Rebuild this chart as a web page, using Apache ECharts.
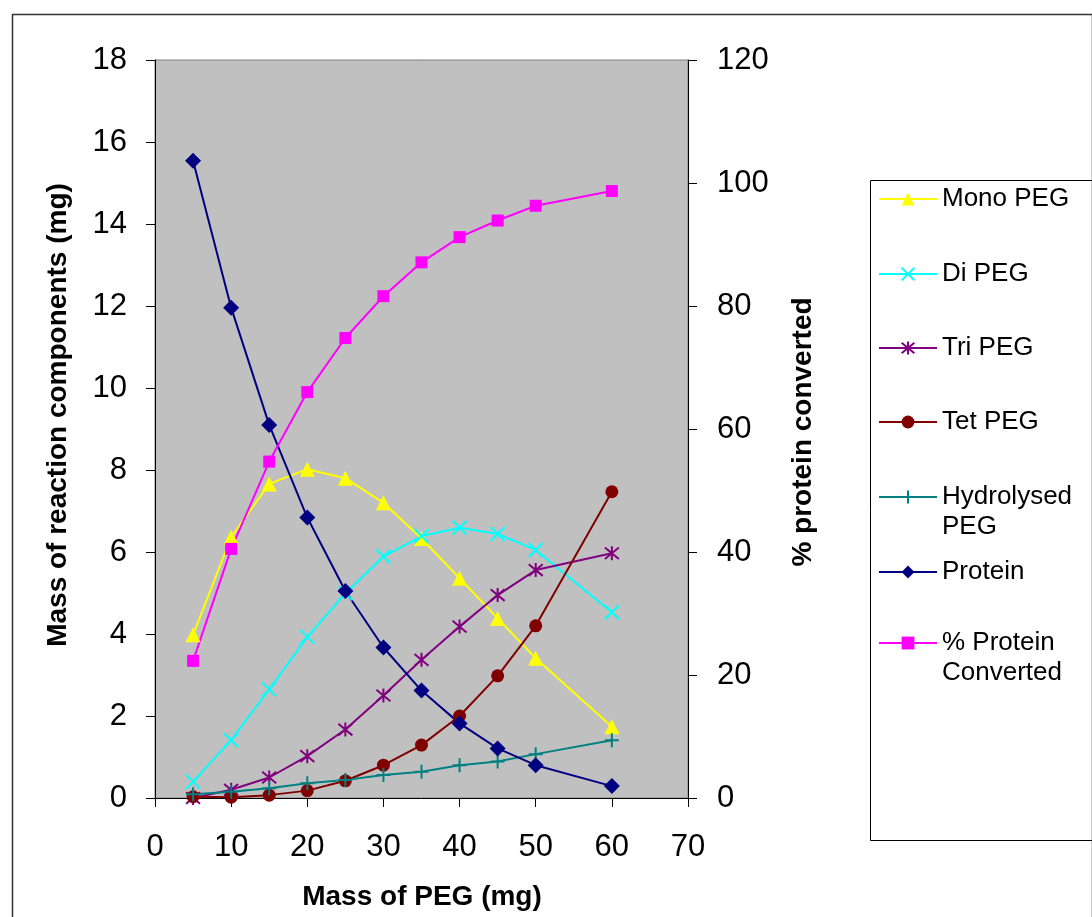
<!DOCTYPE html>
<html>
<head>
<meta charset="utf-8">
<title>PEG reaction components</title>
<script src="https://cdn.jsdelivr.net/npm/echarts@6/dist/echarts.min.js"></script>
<style>
  html, body { margin: 0; padding: 0; background: #fff; }
  #chart { width: 1092px; height: 917px; }
</style>
</head>
<body>
<div id="chart"></div>
<script>
// x 轴：PEG 质量 (mg)
var massPeg = [5, 10, 15, 20, 25, 30, 35, 40, 45, 50, 60];
// 左轴各组分 (mg)
var monoPeg = [3.98, 6.36, 7.66, 8.02, 7.8, 7.2, 6.33, 5.36, 4.38, 3.41, 1.74];
var diPeg = [0.4, 1.41, 2.65, 3.93, 4.99, 5.89, 6.39, 6.59, 6.44, 6.05, 4.53];
var triPeg = [0, 0.2, 0.5, 1.02, 1.67, 2.5, 3.37, 4.18, 4.95, 5.56, 5.97];
var tetPeg = [0.03, 0.02, 0.07, 0.18, 0.42, 0.8, 1.29, 2.0, 2.98, 4.2, 7.47];
var hydrolysedPeg = [0.09, 0.15, 0.24, 0.36, 0.44, 0.56, 0.64, 0.8, 0.89, 1.07, 1.41];
var protein = [15.54, 11.96, 9.1, 6.84, 5.05, 3.67, 2.62, 1.82, 1.21, 0.8, 0.29];
// 右轴：蛋白转化率 (%)
var proteinConverted = [22.3, 40.5, 54.7, 66, 74.8, 81.6, 87.1, 91.2, 93.9, 96.3, 98.7];

var seriesNames = ['Mono PEG', 'Di PEG', 'Tri PEG', 'Tet PEG', 'Hydrolysed\nPEG', 'Protein', '% Protein\nConverted'];
// 图例每一项图标的中心 y
var legendRows = [199, 274, 348, 422, 497, 572, 643];

(function () {
  var font = '"Liberation Sans", Arial, sans-serif';
  var myChart = echarts.init(document.getElementById('chart'));

  function pairs(ys) {
    return massPeg.map(function (x, i) { return [x, ys[i]]; });
  }

  // 线 + 标记
  function makeSeries(name, ys, color, symbol, size, yIndex, strokeOnly) {
    return {
      name: name,
      type: 'line',
      yAxisIndex: yIndex,
      data: pairs(ys),
      symbol: symbol,
      symbolSize: size,
      showAllSymbol: true,
      animation: false,
      lineStyle: { color: color, width: 2 },
      itemStyle: strokeOnly
        ? { color: 'none', borderColor: color, borderWidth: 2 }
        : { color: color, borderWidth: 0 },
      emphasis: { disabled: true }
    };
  }

  var xPath = 'path://M0,0L10,10M10,0L0,10';
  var starPath = 'path://M0,0L10,10M10,0L0,10M5,-1L5,11';
  var plusPath = 'path://M5,0L5,10M0,5L10,5';

  var series = [
    makeSeries(seriesNames[0], monoPeg, '#FFFF00', 'triangle', 15, 0, false),
    makeSeries(seriesNames[1], diPeg, '#00FFFF', xPath, 14, 0, true),
    makeSeries(seriesNames[2], triPeg, '#800080', starPath, 14, 0, true),
    makeSeries(seriesNames[3], tetPeg, '#800000', 'circle', 13, 0, false),
    makeSeries(seriesNames[4], hydrolysedPeg, '#008080', plusPath, 14, 0, true),
    makeSeries(seriesNames[5], protein, '#000080', 'diamond', 16, 0, false),
    makeSeries(seriesNames[6], proteinConverted, '#FF00FF', 'rect', 12, 1, false)
  ];

  // 每个图例单独定位；两行的名字前面加一个空行，让图标对齐第一行
  var legends = seriesNames.map(function (name, i) {
    var twoLines = name.indexOf('\n') >= 0;
    return {
      data: [name],
      left: 878,
      top: legendRows[i] - (twoLines ? 45 : 15),
      orient: 'vertical',
      itemWidth: 58,
      itemHeight: 16,
      itemGap: 0,
      padding: 0,
      selectedMode: false,
      formatter: function (n) { return twoLines ? '\n' + n : n; },
      textStyle: {
        fontFamily: font,
        fontSize: 26,
        color: '#000',
        lineHeight: 30
      }
    };
  });

  var axisLine = { show: true, lineStyle: { color: '#000', width: 1 } };
  var axisTick = { show: true, inside: false, length: 9, lineStyle: { color: '#000' } };
  var axisLabel = { fontFamily: font, fontSize: 31, color: '#000' };

  var option = {
    backgroundColor: '#fff',
    animation: false,
    grid: {
      left: 155, top: 60, width: 533, height: 738,
      show: true, backgroundColor: '#C0C0C0', borderColor: '#808080', borderWidth: 1
    },
    legend: legends,
    xAxis: {
      type: 'value', min: 0, max: 70, interval: 10,
      axisLine: axisLine, axisTick: axisTick,
      axisLabel: Object.assign({ margin: 34 }, axisLabel),
      splitLine: { show: false }
    },
    yAxis: [
      {
        type: 'value', min: 0, max: 18, interval: 2, position: 'left',
        axisLine: axisLine, axisTick: axisTick,
        axisLabel: Object.assign({ margin: 28 }, axisLabel),
        splitLine: { show: false }
      },
      {
        type: 'value', min: 0, max: 120, interval: 20, position: 'right',
        axisLine: axisLine, axisTick: axisTick,
        axisLabel: Object.assign({ margin: 29 }, axisLabel),
        splitLine: { show: false }
      }
    ],
    graphic: [
      // 外框
      { type: 'rect', left: 10, top: 12, shape: { width: 1080, height: 930 },
        style: { fill: 'none', stroke: '#333', lineWidth: 1.5 }, silent: true },
      // 图例框
      { type: 'rect', left: 868, top: 178, shape: { width: 222, height: 660 },
        style: { fill: 'none', stroke: '#000', lineWidth: 1 }, silent: true, z: -1 },
      // 轴标题
      { type: 'text', x: 58, y: 415, rotation: Math.PI / 2,
        style: { text: 'Mass of reaction components (mg)', fontFamily: font, fontSize: 28,
          fontWeight: 'bold', fill: '#000', align: 'center', verticalAlign: 'middle' } },
      { type: 'text', x: 803, y: 432, rotation: Math.PI / 2,
        style: { text: '% protein converted', fontFamily: font, fontSize: 28,
          fontWeight: 'bold', fill: '#000', align: 'center', verticalAlign: 'middle' } },
      { type: 'text', x: 422, y: 897,
        style: { text: 'Mass of PEG (mg)', fontFamily: font, fontSize: 28,
          fontWeight: 'bold', fill: '#000', align: 'center', verticalAlign: 'middle' } }
    ],
    series: series
  };

  myChart.setOption(option);
})();
</script>
</body>
</html>
